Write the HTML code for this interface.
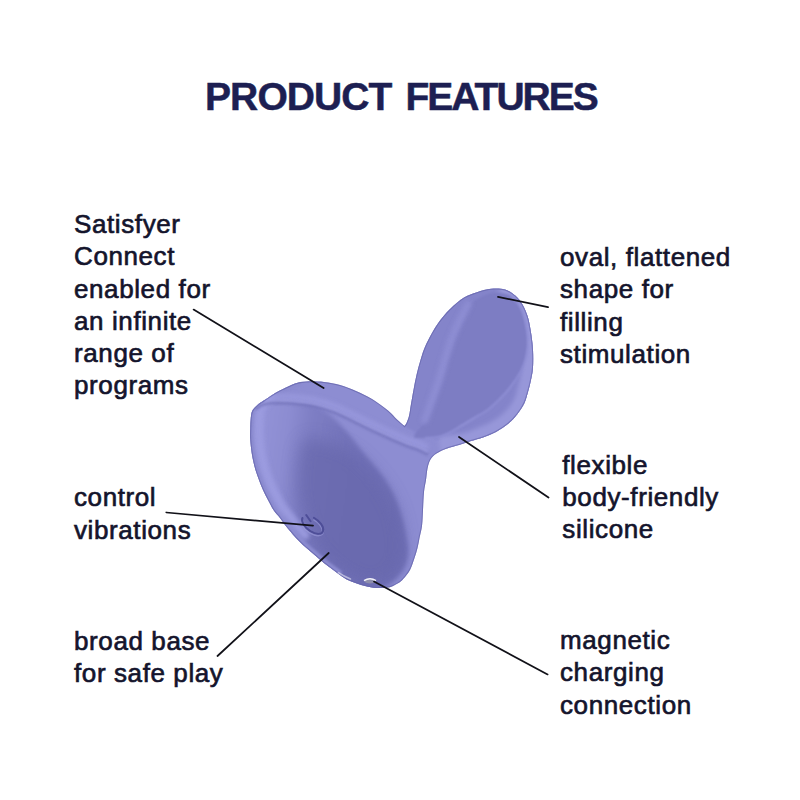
<!DOCTYPE html>
<html><head><meta charset="utf-8">
<style>
html,body{margin:0;padding:0;background:#fff;}
body{width:800px;height:800px;position:relative;overflow:hidden;font-family:"Liberation Sans",sans-serif;}
.t{position:absolute;font-size:26px;line-height:32.3px;letter-spacing:0.6px;color:#14142c;white-space:nowrap;-webkit-text-stroke:0.65px #14142c;}
h1{position:absolute;margin:0;left:205px;top:73px;font-size:39px;letter-spacing:-0.9px;-webkit-text-stroke:0.5px #1d1f52;word-spacing:4px;font-weight:bold;color:#1d1f52;line-height:46px;white-space:nowrap;}
svg{position:absolute;left:0;top:0;}
</style></head><body>
<h1 style="top:73.6px">PRODUCT <span style="letter-spacing:-2.0px">FEATURES</span></h1>
<div class="t" style="left:74px;top:208px">Satisfyer<br>Connect<br>enabled for<br>an infinite<br>range of<br>programs</div>
<div class="t" style="left:74px;top:481.3px">control<br>vibrations</div>
<div class="t" style="left:74px;top:625px">broad base<br>for safe play</div>
<div class="t" style="left:560px;top:241px">oval, flattened<br>shape for<br>filling<br>stimulation</div>
<div class="t" style="left:562.3px;top:448.5px">flexible<br>body-friendly<br>silicone</div>
<div class="t" style="left:560px;top:624px">magnetic<br>charging<br>connection</div>
<svg width="800" height="800" viewBox="0 0 800 800">
<defs>
<clipPath id="dev"><path d="M404.5,426 C402.0,423.8 399.8,422.1 397.0,419.5 C394.2,416.9 392.2,413.9 388.0,410.5 C383.8,407.1 377.3,402.2 372.0,399.0 C366.7,395.8 361.3,393.3 356.0,391.0 C350.7,388.7 345.3,386.5 340.0,385.0 C334.7,383.5 329.7,382.6 324.0,382.0 C318.3,381.4 310.8,381.2 306.0,381.5 C301.2,381.8 298.9,382.2 295.0,383.5 C291.1,384.8 286.2,387.4 282.5,389.2 C278.8,391.0 276.1,392.5 273.0,394.4 C269.9,396.3 266.4,398.8 263.8,400.6 C261.2,402.4 259.3,403.5 257.5,405.0 C255.7,406.5 254.1,408.0 253.0,409.6 C251.9,411.2 251.6,412.7 251.2,414.5 C250.8,416.3 250.8,418.4 250.6,420.6 C250.4,422.9 250.4,425.1 250.3,428.0 C250.2,430.9 250.0,434.3 250.2,438.0 C250.4,441.7 250.8,446.3 251.3,450.0 C251.8,453.7 252.3,456.7 253.0,460.0 C253.7,463.3 254.5,466.7 255.5,470.0 C256.5,473.3 257.8,476.7 259.0,480.0 C260.2,483.3 261.5,486.7 263.0,490.0 C264.5,493.3 266.2,496.7 268.0,500.0 C269.8,503.3 271.5,507.0 273.5,510.0 C275.5,513.0 278.1,515.5 280.0,518.0 C281.9,520.5 283.3,522.8 285.0,525.0 C286.7,527.2 288.2,528.8 290.0,531.0 C291.8,533.2 293.8,535.7 296.0,538.0 C298.2,540.3 300.7,542.8 303.0,545.0 C305.3,547.2 307.7,549.0 310.0,551.0 C312.3,553.0 314.7,555.0 317.0,557.0 C319.3,559.0 321.5,561.0 324.0,563.0 C326.5,565.0 329.3,567.0 332.0,569.0 C334.7,571.0 337.2,573.1 340.0,575.0 C342.8,576.9 344.8,578.7 349.0,580.5 C353.2,582.3 360.5,584.8 365.0,586.0 C369.5,587.2 372.2,587.8 376.0,588.0 C379.8,588.2 385.0,587.8 388.0,587.4 C391.0,587.0 391.8,586.4 394.0,585.4 C396.2,584.4 399.0,582.8 401.0,581.2 C403.0,579.6 404.4,577.8 406.0,575.8 C407.6,573.8 409.1,572.0 410.5,569.0 C411.9,566.0 413.3,561.5 414.5,558.0 C415.7,554.5 416.7,551.3 417.5,548.0 C418.3,544.7 418.8,541.7 419.5,538.0 C420.2,534.3 421.4,530.7 422.0,526.0 C422.6,521.3 422.7,515.7 423.0,510.0 C423.3,504.3 423.5,497.0 424.0,492.0 C424.5,487.0 425.4,483.9 426.0,480.0 C426.6,476.1 426.8,471.9 427.5,468.5 C428.2,465.1 429.0,462.0 430.5,459.5 C432.0,457.0 433.8,455.3 436.5,453.5 C439.2,451.7 443.2,449.9 447.0,448.5 C450.8,447.1 455.0,446.2 459.0,445.0 C463.0,443.8 467.0,442.2 471.0,441.0 C475.0,439.8 478.8,439.0 483.0,437.5 C487.2,436.0 491.8,434.3 496.0,432.0 C500.2,429.7 504.9,426.5 508.5,423.5 C512.1,420.5 514.8,417.4 517.5,414.0 C520.2,410.6 522.8,406.7 524.5,403.0 C526.2,399.3 526.9,395.8 528.0,392.0 C529.1,388.2 530.2,384.1 531.0,380.0 C531.8,375.9 532.7,372.5 533.0,367.5 C533.3,362.5 533.3,355.8 533.0,350.0 C532.7,344.2 531.9,338.0 531.0,332.5 C530.1,327.0 529.2,321.4 527.8,316.8 C526.3,312.1 524.5,308.0 522.5,304.5 C520.5,301.0 518.4,298.2 515.5,295.8 C512.6,293.3 509.1,290.8 505.0,289.6 C500.9,288.4 495.7,288.3 491.0,288.8 C486.3,289.2 481.5,290.8 477.0,292.2 C472.5,293.7 468.5,294.7 464.0,297.5 C459.5,300.3 454.4,304.6 450.0,309.0 C445.6,313.4 441.5,318.1 437.5,324.0 C433.5,329.9 428.8,338.6 426.0,344.6 C423.2,350.6 422.1,354.9 420.5,360.0 C418.9,365.1 417.7,370.0 416.5,375.0 C415.3,380.0 414.4,385.2 413.5,390.0 C412.6,394.8 411.8,399.7 411.0,404.0 C410.2,408.3 409.8,412.8 409.0,416.0 C408.2,419.2 407.2,421.3 406.5,423.0 C405.8,424.7 405.2,425.0 404.5,426.0Z"/></clipPath>
<filter id="b1" x="-20%" y="-20%" width="140%" height="140%"><feGaussianBlur stdDeviation="0.8"/></filter>
<filter id="b2" x="-20%" y="-20%" width="140%" height="140%"><feGaussianBlur stdDeviation="2"/></filter>
<filter id="b4" x="-20%" y="-20%" width="140%" height="140%"><feGaussianBlur stdDeviation="4"/></filter>
<filter id="b8" x="-30%" y="-30%" width="160%" height="160%"><feGaussianBlur stdDeviation="8"/></filter>
<linearGradient id="gface" gradientUnits="userSpaceOnUse" x1="252" y1="470" x2="400" y2="490">
<stop offset="0" stop-color="#9393d7"/><stop offset="0.2" stop-color="#8c8cd1"/><stop offset="0.35" stop-color="#7e7ec4"/><stop offset="0.6" stop-color="#7373ba"/><stop offset="1" stop-color="#6e6eb5"/>
</linearGradient>
</defs>
<g clip-path="url(#dev)">
<rect x="240" y="280" width="300" height="320" fill="#8d8dd2"/>
<path d="M257.0,405.0 C259.0,400.2 261.3,402.2 264.0,401.5 C266.7,400.8 269.9,400.6 273.0,400.5 C276.1,400.4 278.8,400.8 282.5,401.0 C286.2,401.2 289.8,401.2 295.0,402.0 C300.2,402.8 308.0,403.7 314.0,406.0 C320.0,408.3 325.3,411.5 331.0,416.0 C336.7,420.5 342.8,427.2 348.0,433.0 C353.2,438.8 357.8,445.8 362.0,451.0 C366.2,456.2 369.3,459.5 373.0,464.0 C376.7,468.5 380.7,473.2 384.0,478.0 C387.3,482.8 390.5,488.0 393.0,493.0 C395.5,498.0 397.2,503.0 399.0,508.0 C400.8,513.0 402.2,518.0 403.5,523.0 C404.8,528.0 405.8,533.0 406.5,538.0 C407.2,543.0 408.4,548.0 408.0,553.0 C407.6,558.0 406.7,563.2 404.0,568.0 C401.3,572.8 396.8,578.5 392.0,582.0 C387.2,585.5 382.0,589.0 375.0,589.0 C368.0,589.0 359.2,586.5 350.0,582.0 C340.8,577.5 329.2,569.5 320.0,562.0 C310.8,554.5 302.5,546.5 295.0,537.0 C287.5,527.5 281.2,517.0 275.0,505.0 C268.8,493.0 261.8,477.5 258.0,465.0 C254.2,452.5 252.2,440.0 252.0,430.0 C251.8,420.0 255.0,409.8 257.0,405.0Z" fill="url(#gface)" filter="url(#b2)"/>
<path d="M305.0,440.0 C310.3,436.3 322.2,441.0 330.0,443.0 C337.8,445.0 345.7,448.2 352.0,452.0 C358.3,455.8 363.3,461.3 368.0,466.0 C372.7,470.7 376.3,475.2 380.0,480.0 C383.7,484.8 387.2,490.0 390.0,495.0 C392.8,500.0 395.2,505.0 397.0,510.0 C398.8,515.0 400.0,520.0 401.0,525.0 C402.0,530.0 402.7,535.0 403.0,540.0 C403.3,545.0 403.8,550.0 403.0,555.0 C402.2,560.0 400.8,565.5 398.0,570.0 C395.2,574.5 391.5,579.5 386.0,582.0 C380.5,584.5 372.7,586.7 365.0,585.0 C357.3,583.3 347.8,577.5 340.0,572.0 C332.2,566.5 323.8,559.8 318.0,552.0 C312.2,544.2 308.3,534.5 305.0,525.0 C301.7,515.5 299.2,505.0 298.0,495.0 C296.8,485.0 296.8,474.2 298.0,465.0 C299.2,455.8 299.7,443.7 305.0,440.0Z" fill="#6868ac" filter="url(#b8)" opacity="0.75"/>
<path d="M300.0,382.0 C294.2,384.4 287.0,387.1 282.5,389.2 C278.0,391.3 276.1,392.5 273.0,394.4 C269.9,396.3 266.4,398.8 263.8,400.6 C261.2,402.4 259.3,403.5 257.5,405.0 C255.7,406.5 254.1,408.0 253.0,409.6 C251.9,411.2 251.6,412.7 251.2,414.5 C250.8,416.3 250.8,418.4 250.6,420.6 C250.4,422.9 250.4,425.1 250.3,428.0 C250.2,430.9 250.0,434.3 250.2,438.0 C250.4,441.7 250.8,446.3 251.3,450.0 C251.8,453.7 252.3,456.7 253.0,460.0 C253.7,463.3 254.5,466.7 255.5,470.0 C256.5,473.3 257.8,476.7 259.0,480.0 C260.2,483.3 261.5,486.7 263.0,490.0 C264.5,493.3 266.2,496.7 268.0,500.0 C269.8,503.3 271.5,507.0 273.5,510.0 C275.5,513.0 278.1,515.5 280.0,518.0 C281.9,520.5 283.3,522.8 285.0,525.0 C286.7,527.2 288.2,528.8 290.0,531.0 C291.8,533.2 293.8,535.7 296.0,538.0 C298.2,540.3 300.7,542.8 303.0,545.0 C305.3,547.2 307.7,549.0 310.0,551.0 C312.3,553.0 314.7,555.0 317.0,557.0 C319.3,559.0 321.5,561.0 324.0,563.0 C326.5,565.0 329.3,567.0 332.0,569.0 C334.7,571.0 337.3,573.0 340.0,575.0" stroke="#8a8acf" stroke-width="8" fill="none" filter="url(#b1)"/>
<path d="M262.0,401.0 C260.5,402.3 259.0,403.6 257.5,405.0 C256.0,406.4 254.1,408.0 253.0,409.6 C251.9,411.2 251.6,412.7 251.2,414.5 C250.8,416.3 250.8,418.4 250.6,420.6 C250.4,422.9 250.4,425.1 250.3,428.0 C250.2,430.9 250.0,434.3 250.2,438.0 C250.4,441.7 250.8,446.3 251.3,450.0 C251.8,453.7 252.3,456.7 253.0,460.0 C253.7,463.3 254.5,466.7 255.5,470.0 C256.5,473.3 257.8,476.7 259.0,480.0 C260.2,483.3 261.5,486.7 263.0,490.0 C264.5,493.3 266.2,496.7 268.0,500.0 C269.8,503.3 271.5,507.0 273.5,510.0 C275.5,513.0 278.1,515.5 280.0,518.0 C281.9,520.5 283.3,522.8 285.0,525.0 C286.7,527.2 288.2,528.8 290.0,531.0 C291.8,533.2 294.0,535.7 296.0,538.0" stroke="#9c9ce0" stroke-width="9" fill="none" filter="url(#b2)" transform="translate(9,-3)" opacity="0.9" stroke-linecap="round"/>
<path d="M255.5,406.5 C257.0,405.3 258.2,403.9 260.0,403.0 C261.8,402.1 263.8,401.6 266.0,401.2 C268.2,400.8 270.2,400.4 273.0,400.3 C275.8,400.2 278.8,400.2 282.5,400.4 C286.2,400.5 289.8,400.6 295.0,401.2 C300.2,401.8 307.3,402.2 314.0,403.7 C320.7,405.2 327.8,407.2 335.0,410.0 C342.2,412.8 349.5,416.9 357.0,420.5 C364.5,424.1 372.0,427.8 380.0,431.5 C388.0,435.2 398.7,439.9 405.0,442.5 C411.3,445.1 414.2,445.4 418.0,447.0 C421.8,448.6 424.7,450.3 428.0,452.0" stroke="#9a9ade" stroke-width="6" fill="none" filter="url(#b2)" transform="translate(0,-4)" opacity="0.8"/>
<path d="M255.5,406.5 C257.0,405.3 258.2,403.9 260.0,403.0 C261.8,402.1 263.8,401.6 266.0,401.2 C268.2,400.8 270.2,400.4 273.0,400.3 C275.8,400.2 278.8,400.2 282.5,400.4 C286.2,400.5 289.8,400.6 295.0,401.2 C300.2,401.8 307.3,402.2 314.0,403.7 C320.7,405.2 327.8,407.2 335.0,410.0 C342.2,412.8 349.5,416.9 357.0,420.5 C364.5,424.1 372.0,427.8 380.0,431.5 C388.0,435.2 398.7,439.9 405.0,442.5 C411.3,445.1 414.2,445.4 418.0,447.0 C421.8,448.6 424.7,450.3 428.0,452.0" stroke="#7070b6" stroke-width="4" fill="none" filter="url(#b1)" transform="translate(0,2.4)" opacity="0.55"/>
<path d="M255.5,406.5 C257.0,405.3 258.2,403.9 260.0,403.0 C261.8,402.1 263.8,401.6 266.0,401.2 C268.2,400.8 270.2,400.4 273.0,400.3 C275.8,400.2 278.8,400.2 282.5,400.4 C286.2,400.5 289.8,400.6 295.0,401.2 C300.2,401.8 307.3,402.2 314.0,403.7 C320.7,405.2 327.8,407.2 335.0,410.0 C342.2,412.8 349.5,416.9 357.0,420.5 C364.5,424.1 372.0,427.8 380.0,431.5 C388.0,435.2 398.7,439.9 405.0,442.5 C411.3,445.1 414.2,445.4 418.0,447.0 C421.8,448.6 424.7,450.3 428.0,452.0" stroke="#a0a0e2" stroke-width="1.6" fill="none" filter="url(#b1)" opacity="0.9"/>
<path d="M404.5,426.0 C402.2,424.2 405.8,424.7 406.5,423.0 C407.2,421.3 408.2,419.2 409.0,416.0 C409.8,412.8 410.2,408.3 411.0,404.0 C411.8,399.7 412.6,394.8 413.5,390.0 C414.4,385.2 415.3,380.0 416.5,375.0 C417.7,370.0 418.9,365.1 420.5,360.0 C422.1,354.9 423.2,350.6 426.0,344.6 C428.8,338.6 433.5,329.9 437.5,324.0 C441.5,318.1 445.6,313.4 450.0,309.0 C454.4,304.6 459.7,300.4 464.0,297.5 C468.3,294.6 471.5,293.0 476.0,291.5 C480.5,290.0 486.2,289.1 491.0,288.8 C495.8,288.4 500.9,288.4 505.0,289.6 C509.1,290.8 512.6,293.3 515.5,295.8 C518.4,298.2 520.5,301.0 522.5,304.5 C524.5,308.0 526.3,312.1 527.8,316.8 C529.2,321.4 530.1,327.0 531.0,332.5 C531.9,338.0 532.7,344.2 533.0,350.0 C533.3,355.8 533.3,362.5 533.0,367.5 C532.7,372.5 531.8,375.9 531.0,380.0 C530.2,384.1 529.1,388.2 528.0,392.0 C526.9,395.8 526.2,399.3 524.5,403.0 C522.8,406.7 520.2,410.6 517.5,414.0 C514.8,417.4 512.1,420.5 508.5,423.5 C504.9,426.5 500.2,429.7 496.0,432.0 C491.8,434.3 488.2,435.8 483.0,437.5 C477.8,439.2 472.2,441.6 465.0,442.0 C457.8,442.4 447.5,441.3 440.0,440.0 C432.5,438.7 425.9,436.3 420.0,434.0 C414.1,431.7 406.8,427.8 404.5,426.0Z" fill="#8484ca" filter="url(#b1)"/>
<path d="M500.0,289.0 C505.2,291.2 511.8,293.2 515.5,295.8 C519.2,298.3 520.5,301.0 522.5,304.5 C524.5,308.0 526.3,312.1 527.8,316.8 C529.2,321.4 530.1,327.0 531.0,332.5 C531.9,338.0 532.7,344.2 533.0,350.0 C533.3,355.8 533.3,362.5 533.0,367.5 C532.7,372.5 531.8,375.9 531.0,380.0 C530.2,384.1 529.1,388.2 528.0,392.0 C526.9,395.8 526.2,399.3 524.5,403.0 C522.8,406.7 520.2,410.6 517.5,414.0 C514.8,417.4 512.1,420.5 508.5,423.5 C504.9,426.5 500.2,429.7 496.0,432.0 C491.8,434.3 488.2,435.5 483.0,437.5 C477.8,439.5 472.2,442.4 465.0,444.0 C457.8,445.6 448.3,446.0 440.0,447.0" stroke="#9797d9" stroke-width="22" fill="none" filter="url(#b2)"/>
<path d="M492.0,293.0 C498.5,291.8 506.2,293.5 511.0,296.0 C515.8,298.5 518.3,302.3 521.0,308.0 C523.7,313.7 525.9,323.0 527.0,330.0 C528.1,337.0 528.3,343.5 527.5,350.0 C526.7,356.5 524.9,362.8 522.0,369.0 C519.1,375.2 513.7,382.5 510.0,387.5 C506.3,392.5 503.8,395.0 500.0,398.8 C496.2,402.5 491.7,406.9 487.5,410.0 C483.3,413.1 479.2,415.0 475.0,417.5 C470.8,420.0 466.7,422.5 462.5,425.0 C458.3,427.5 454.1,430.5 450.0,432.5 C445.9,434.5 442.2,436.1 438.0,437.0 C433.8,437.9 429.0,438.2 425.0,438.0 C421.0,437.8 413.7,439.0 414.0,436.0 C414.3,433.0 423.7,425.5 427.0,420.0 C430.3,414.5 431.5,409.7 434.0,403.0 C436.5,396.3 439.5,387.8 442.0,380.0 C444.5,372.2 446.8,363.0 449.0,356.0 C451.2,349.0 452.8,343.7 455.0,338.0 C457.2,332.3 459.2,327.8 462.0,322.0 C464.8,316.2 467.0,307.8 472.0,303.0 C477.0,298.2 485.5,294.2 492.0,293.0Z" fill="#7d7dc3" filter="url(#b1)"/>
<path d="M511.0,296.0 C514.3,300.0 518.3,302.3 521.0,308.0 C523.7,313.7 525.9,323.0 527.0,330.0 C528.1,337.0 528.3,343.5 527.5,350.0 C526.7,356.5 524.9,362.8 522.0,369.0 C519.1,375.2 513.7,382.5 510.0,387.5 C506.3,392.5 503.8,395.0 500.0,398.8 C496.2,402.5 491.7,406.9 487.5,410.0 C483.3,413.1 479.2,415.0 475.0,417.5 C470.8,420.0 466.7,422.5 462.5,425.0 C458.3,427.5 454.1,430.5 450.0,432.5 C445.9,434.5 442.2,436.1 438.0,437.0 C433.8,437.9 429.3,437.7 425.0,438.0" stroke="#9494d9" stroke-width="1.5" fill="none" filter="url(#b1)"/>
<path d="M468.0,305.0 C465.0,310.7 461.7,316.5 459.0,322.0 C456.3,327.5 454.2,332.3 452.0,338.0 C449.8,343.7 448.2,349.0 446.0,356.0 C443.8,363.0 441.5,372.2 439.0,380.0 C436.5,387.8 433.3,396.3 431.0,403.0 C428.7,409.7 427.0,414.3 425.0,420.0" stroke="#8f8fd4" stroke-width="8" fill="none" filter="url(#b2)" stroke-linecap="round" opacity="0.8"/>
<path d="M404.5,426 C402.0,423.8 399.8,422.1 397.0,419.5 C394.2,416.9 392.2,413.9 388.0,410.5 C383.8,407.1 377.3,402.2 372.0,399.0 C366.7,395.8 361.3,393.3 356.0,391.0 C350.7,388.7 345.3,386.5 340.0,385.0 C334.7,383.5 329.7,382.6 324.0,382.0 C318.3,381.4 310.8,381.2 306.0,381.5 C301.2,381.8 298.9,382.2 295.0,383.5 C291.1,384.8 286.2,387.4 282.5,389.2 C278.8,391.0 276.1,392.5 273.0,394.4 C269.9,396.3 266.4,398.8 263.8,400.6 C261.2,402.4 259.3,403.5 257.5,405.0 C255.7,406.5 254.1,408.0 253.0,409.6 C251.9,411.2 251.6,412.7 251.2,414.5 C250.8,416.3 250.8,418.4 250.6,420.6 C250.4,422.9 250.4,425.1 250.3,428.0 C250.2,430.9 250.0,434.3 250.2,438.0 C250.4,441.7 250.8,446.3 251.3,450.0 C251.8,453.7 252.3,456.7 253.0,460.0 C253.7,463.3 254.5,466.7 255.5,470.0 C256.5,473.3 257.8,476.7 259.0,480.0 C260.2,483.3 261.5,486.7 263.0,490.0 C264.5,493.3 266.2,496.7 268.0,500.0 C269.8,503.3 271.5,507.0 273.5,510.0 C275.5,513.0 278.1,515.5 280.0,518.0 C281.9,520.5 283.3,522.8 285.0,525.0 C286.7,527.2 288.2,528.8 290.0,531.0 C291.8,533.2 293.8,535.7 296.0,538.0 C298.2,540.3 300.7,542.8 303.0,545.0 C305.3,547.2 307.7,549.0 310.0,551.0 C312.3,553.0 314.7,555.0 317.0,557.0 C319.3,559.0 321.5,561.0 324.0,563.0 C326.5,565.0 329.3,567.0 332.0,569.0 C334.7,571.0 337.2,573.1 340.0,575.0 C342.8,576.9 344.8,578.7 349.0,580.5 C353.2,582.3 360.5,584.8 365.0,586.0 C369.5,587.2 372.2,587.8 376.0,588.0 C379.8,588.2 385.0,587.8 388.0,587.4 C391.0,587.0 391.8,586.4 394.0,585.4 C396.2,584.4 399.0,582.8 401.0,581.2 C403.0,579.6 404.4,577.8 406.0,575.8 C407.6,573.8 409.1,572.0 410.5,569.0 C411.9,566.0 413.3,561.5 414.5,558.0 C415.7,554.5 416.7,551.3 417.5,548.0 C418.3,544.7 418.8,541.7 419.5,538.0 C420.2,534.3 421.4,530.7 422.0,526.0 C422.6,521.3 422.7,515.7 423.0,510.0 C423.3,504.3 423.5,497.0 424.0,492.0 C424.5,487.0 425.4,483.9 426.0,480.0 C426.6,476.1 426.8,471.9 427.5,468.5 C428.2,465.1 429.0,462.0 430.5,459.5 C432.0,457.0 433.8,455.3 436.5,453.5 C439.2,451.7 443.2,449.9 447.0,448.5 C450.8,447.1 455.0,446.2 459.0,445.0 C463.0,443.8 467.0,442.2 471.0,441.0 C475.0,439.8 478.8,439.0 483.0,437.5 C487.2,436.0 491.8,434.3 496.0,432.0 C500.2,429.7 504.9,426.5 508.5,423.5 C512.1,420.5 514.8,417.4 517.5,414.0 C520.2,410.6 522.8,406.7 524.5,403.0 C526.2,399.3 526.9,395.8 528.0,392.0 C529.1,388.2 530.2,384.1 531.0,380.0 C531.8,375.9 532.7,372.5 533.0,367.5 C533.3,362.5 533.3,355.8 533.0,350.0 C532.7,344.2 531.9,338.0 531.0,332.5 C530.1,327.0 529.2,321.4 527.8,316.8 C526.3,312.1 524.5,308.0 522.5,304.5 C520.5,301.0 518.4,298.2 515.5,295.8 C512.6,293.3 509.1,290.8 505.0,289.6 C500.9,288.4 495.7,288.3 491.0,288.8 C486.3,289.2 481.5,290.8 477.0,292.2 C472.5,293.7 468.5,294.7 464.0,297.5 C459.5,300.3 454.4,304.6 450.0,309.0 C445.6,313.4 441.5,318.1 437.5,324.0 C433.5,329.9 428.8,338.6 426.0,344.6 C423.2,350.6 422.1,354.9 420.5,360.0 C418.9,365.1 417.7,370.0 416.5,375.0 C415.3,380.0 414.4,385.2 413.5,390.0 C412.6,394.8 411.8,399.7 411.0,404.0 C410.2,408.3 409.8,412.8 409.0,416.0 C408.2,419.2 407.2,421.3 406.5,423.0 C405.8,424.7 405.2,425.0 404.5,426.0Z" stroke="#6464aa" stroke-width="2" fill="none" opacity="0.7"/>
</g>
<g>
<g transform="translate(312.6 524.8) rotate(37)">
<path d="M-3.2,-6.4 A12.3,6.6 0 1,1 -12.2,0.7" fill="none" stroke="#a4a4e2" stroke-width="2.4" opacity="0.5" transform="translate(0.6 1.2)"/>
<path d="M-3.2,-6.4 A12.3,6.6 0 1,1 -12.2,0.7" fill="none" stroke="#4e4e98" stroke-width="2" stroke-linecap="round"/>
<line x1="-3.7" y1="-1.6" x2="-11" y2="-4" stroke="#4e4e98" stroke-width="2" stroke-linecap="round"/>
</g>
<ellipse cx="370" cy="581" rx="5.5" ry="2.4" fill="#8e8eac"/>
<path d="M364,580.6 Q370,577 376,580.6" stroke="#f2f2fa" stroke-width="1.4" fill="none"/>
<path d="M338.5,572.6 Q344,576.4 350.5,579" stroke="#c4c4e4" stroke-width="1.6" fill="none" stroke-linecap="round" opacity="0.85"/>
</g>
<g stroke="#111118" stroke-width="1.75" fill="none" stroke-linecap="round">
<line x1="193.6" y1="309.6" x2="323.6" y2="388"/>
<line x1="166.3" y1="512.5" x2="313" y2="525.6"/>
<line x1="217.5" y1="656" x2="328.7" y2="553"/>
<line x1="374" y1="581.6" x2="547.6" y2="674.4"/>
<line x1="459" y1="437" x2="548.5" y2="497.5"/>
<line x1="498" y1="296.8" x2="548" y2="307.2"/>
</g>
</svg>
</body></html>
